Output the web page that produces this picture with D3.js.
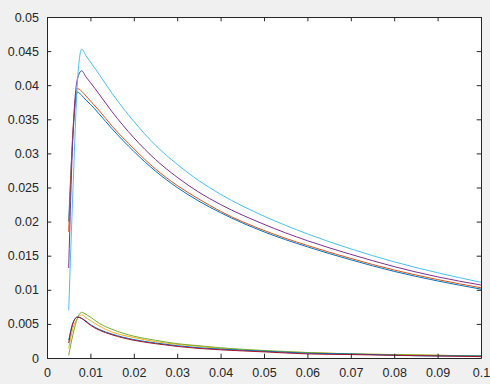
<!DOCTYPE html>
<html>
<head>
<meta charset="utf-8">
<script src="https://cdn.jsdelivr.net/npm/d3@7"></script>
<style>
  html, body { margin: 0; padding: 0; background: #f0f0f0; }
  #chart svg { display: block; }
  .axis text { font-family: "Liberation Sans", Arial, sans-serif; font-size: 12.5px; fill: #262626; }
  .axis path, .axis line { stroke: #262626; }
</style>
</head>
<body>
<div id="chart"></div>
<script>
// MATLAB-style plot of 8 curves, recreated with D3 v7

// === data ===
const xs = [0.005, 0.006, 0.007, 0.008, 0.009, 0.01, 0.012, 0.015, 0.02, 0.025, 0.03,
            0.035, 0.04, 0.05, 0.06, 0.07, 0.08, 0.09, 0.1];

const upperBlue   = [0.0200, 0.0330, 0.0390, 0.0385, 0.0378, 0.0372, 0.0358, 0.0336, 0.0303, 0.0274, 0.0250,
                     0.0230, 0.0213, 0.0185, 0.0163, 0.0144, 0.0127, 0.0113, 0.0101];
const upperOrange = [0.0185, 0.0335, 0.0395, 0.0391, 0.0384, 0.0377, 0.0363, 0.0340, 0.0307, 0.0277, 0.0253,
                     0.0233, 0.0215, 0.0187, 0.0165, 0.0146, 0.0129, 0.0115, 0.0103];
const upperPurple = [0.0132, 0.0330, 0.0409, 0.0421, 0.0412, 0.0404, 0.0387, 0.0361, 0.0323, 0.0291, 0.0265,
                     0.0243, 0.0225, 0.0196, 0.0172, 0.0152, 0.0134, 0.0119, 0.0107];
const upperCyan   = [0.0070, 0.0250, 0.0403, 0.0453, 0.0443, 0.0434, 0.0416, 0.0388, 0.0347, 0.0312, 0.0284,
                     0.0260, 0.0240, 0.0208, 0.0182, 0.0160, 0.0141, 0.0125, 0.0111];
const lowerYellow = [0.0014, 0.0044, 0.0058, 0.0063, 0.0059, 0.0055, 0.0047, 0.0038, 0.0030, 0.0024, 0.0020,
                     0.0017, 0.0014, 0.0010, 0.0008, 0.0006, 0.0005, 0.0004, 0.0003];
const lowerGreen  = [0.0004, 0.0035, 0.0058, 0.0067, 0.0064, 0.0060, 0.0051, 0.0042, 0.0032, 0.0026, 0.0021,
                     0.0018, 0.0015, 0.0011, 0.0008, 0.0006, 0.0005, 0.0004, 0.0003];
const lowerBlue   = [0.0026, 0.0052, 0.0060, 0.0058, 0.0054, 0.0049, 0.0042, 0.0035, 0.0027, 0.0022, 0.0018,
                     0.0015, 0.0013, 0.0010, 0.0007, 0.0006, 0.0004, 0.0003, 0.0003];
const lowerRed    = [0.0022, 0.0051, 0.0060, 0.0058, 0.0053, 0.0048, 0.0041, 0.0034, 0.0026, 0.0021, 0.0017,
                     0.0014, 0.0012, 0.0009, 0.0006, 0.0005, 0.0004, 0.0003, 0.0002];

// drawing order and MATLAB colors
const seriesList  = [upperBlue, upperOrange, lowerYellow, upperPurple, lowerGreen, upperCyan, lowerBlue, lowerRed];
const seriesColor = ["#0072BD", "#D95319", "#EDB120", "#7E2F8E", "#77AC30", "#4DBEEE", "#0072BD", "#A2142F"];

const xTicks  = [0, 0.01, 0.02, 0.03, 0.04, 0.05, 0.06, 0.07, 0.08, 0.09, 0.1];
const xLabels = ["0", "0.01", "0.02", "0.03", "0.04", "0.05", "0.06", "0.07", "0.08", "0.09", "0.1"];
const yTicks  = [0, 0.005, 0.01, 0.015, 0.02, 0.025, 0.03, 0.035, 0.04, 0.045, 0.05];
const yLabels = ["0", "0.005", "0.01", "0.015", "0.02", "0.025", "0.03", "0.035", "0.04", "0.045", "0.05"];

// === sizing ===
const outerW = 490, outerH = 384;
const margin = { top: 17, right: 9, bottom: 26, left: 47 };
const width  = outerW - margin.left - margin.right;
const height = outerH - margin.top - margin.bottom;
const tick = 4.3;

const svg = d3.select("#chart")
  .append("svg")
  .attr("width", outerW)
  .attr("height", outerH);

svg.append("rect")
  .attr("width", outerW).attr("height", outerH)
  .attr("fill", "#f0f0f0");

const g = svg.append("g").attr("transform", `translate(${margin.left},${margin.top})`);

// white axes area
g.append("rect")
  .attr("width", width).attr("height", height)
  .attr("fill", "#ffffff");

const x = d3.scaleLinear().domain([0, 0.1]).range([0, width]);
const y = d3.scaleLinear().domain([0, 0.05]).range([height, 0]);

// lines (monotone curve smooths the decay without overshooting the peak)
const lineGen = d3.line()
  .x((d, i) => x(xs[i]))
  .y(d => y(d))
  .curve(d3.curveMonotoneX);

g.append("g")
  .selectAll("path")
  .data(seriesList)
  .join("path")
  .attr("fill", "none")
  .attr("stroke", (d, i) => seriesColor[i])
  .attr("stroke-width", 1)
  .attr("d", d => lineGen(d));

// axes (ticks pointing inward, box on)
const fmtX = d => xLabels[xTicks.indexOf(d)];
const fmtY = d => yLabels[yTicks.indexOf(d)];

g.append("g").attr("class", "axis")
  .attr("transform", `translate(0,${height})`)
  .call(d3.axisBottom(x).tickValues(xTicks).tickFormat(fmtX).tickSizeInner(-tick).tickSizeOuter(0).tickPadding(10));

g.append("g").attr("class", "axis")
  .call(d3.axisLeft(y).tickValues(yTicks).tickFormat(fmtY).tickSizeInner(-tick).tickSizeOuter(0).tickPadding(8));

g.append("g").attr("class", "axis")
  .call(d3.axisTop(x).tickValues(xTicks).tickFormat("").tickSizeInner(-tick).tickSizeOuter(0));

g.append("g").attr("class", "axis")
  .attr("transform", `translate(${width},0)`)
  .call(d3.axisRight(y).tickValues(yTicks).tickFormat("").tickSizeInner(-tick).tickSizeOuter(0));

g.selectAll(".axis .domain").attr("stroke-width", 1);
</script>
</body>
</html>
